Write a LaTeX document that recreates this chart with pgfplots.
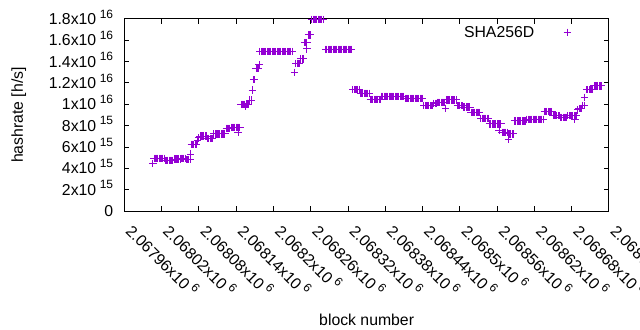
\documentclass[border=0pt]{standalone}
\usepackage{pgfplots}
\pgfplotsset{compat=1.18}
\usepackage{fontspec}
\setmainfont{Liberation Sans}
\definecolor{gpviolet}{RGB}{148,0,211}
\newcommand{\fs}{\fontsize{15.8bp}{18bp}\selectfont}
\newcommand{\sci}[2]{#1x10\hspace{3.5bp}\raisebox{6.5bp}{\fontsize{12bp}{14bp}\selectfont #2}}
\pgfplotsset{myleg/.style={legend image code/.code={\draw[##1] plot coordinates {(0bp,0bp)};}}}
\begin{document}
\begin{tikzpicture}
\useasboundingbox (-124.3bp,-119bp) rectangle (515.7bp,211bp);
\begin{axis}[
  at={(0,0)}, anchor=south west,
  scale only axis, width=484.7bp, height=192bp,
  xmin=0, xmax=780, ymin=0, ymax=18,
  clip=false,
  axis line style={line width=1bp},
  every tick/.style={black, line width=1bp},
  major tick length=4.5bp, tick align=inside,
  xtick={0,60,...,780},
  xticklabels={\sci{2.06796}{6},\sci{2.06802}{6},\sci{2.06808}{6},\sci{2.06814}{6},\sci{2.0682}{6},\sci{2.06826}{6},\sci{2.06832}{6},\sci{2.06838}{6},\sci{2.06844}{6},\sci{2.0685}{6},\sci{2.06856}{6},\sci{2.06862}{6},\sci{2.06868}{6},\sci{2.06874}{6}},
  ytick={0,2,...,18},
  yticklabels={0,\sci{2}{15},\sci{4}{15},\sci{6}{15},\sci{8}{15},\sci{1}{16},\sci{1.2}{16},\sci{1.4}{16},\sci{1.6}{16},\sci{1.8}{16}},
  tick label style={font=\fs},
  yticklabel style={anchor=base east, inner sep=0pt, xshift=-11bp, yshift=-5.6bp},
  xticklabel style={xshift=0.5bp, yshift=-21.2bp, rotate=-45, anchor=base west, inner sep=0pt},
  xlabel={block number}, ylabel={hashrate [h/s]},
  label style={font=\fs},
  xlabel style={at={(axis description cs:0.5,-0.598)}, anchor=base},
  ylabel style={at={(axis description cs:-0.209,0.5)}, anchor=base, rotate=0},
  legend plot pos=right,
  legend style={draw=none, fill=none, font=\fs, at={(rel axis cs:0.9214,0.9307)}, anchor=east, inner sep=0pt, outer sep=0pt, nodes={inner sep=0pt}, /tikz/every odd column/.append style={column sep=29.2bp}},
]
\addplot[only marks, mark=+, mark size=3.7bp, color=gpviolet, mark options={line width=1bp}, myleg] coordinates {
(46,4.45)
(48,4.94)(50,4.94)(52,4.94)(54,4.94)(56,4.94)(58,4.94)(60,4.94)(62,4.94)(64,4.94)
(66,4.75)(68,4.75)(70,4.75)(72,4.75)(74,4.75)(76,4.75)(78,4.75)
(80,4.86)(82,4.86)(84,4.86)(86,4.86)(88,4.86)(90,4.86)
(92,4.94)(94,4.94)(96,4.94)(98,4.94)
(100,4.81)(102,4.81)(104,4.81)(106,4.81)
(107,5.34)
(108,6.25)(110,6.25)(112,6.25)(114,6.25)(116,6.25)
(118,6.6)(120,6.85)
(122,7.03)(124,7.03)(126,7.03)(128,7.03)(130,7.03)(132,7.03)
(134,6.82)(136,6.82)(138,6.82)(140,6.82)(142,6.82)
(144,7.22)(146,7.22)(148,7.22)(150,7.22)(152,7.22)(154,7.22)(156,7.22)(158,7.22)(160,7.22)(162,7.22)
(164,7.75)(166,7.75)(168,7.75)(170,7.75)
(172,7.85)(174,7.85)(176,7.85)(178,7.85)(180,7.85)(182,7.85)(184,7.85)(186,7.85)
(183,7.34)
(188,10.0)(190,10.0)(192,10.0)(194,10.0)(196,10.0)(198,10.0)(200,10.0)
(195,9.78)
(202,10.4)(204,10.4)
(206,11.34)
(208,12.3)(210,12.3)
(212,13.34)(214,13.34)(216,13.34)
(217,13.69)
(218,14.94)(220,14.94)(222,14.94)(224,14.94)(226,14.94)(228,14.94)(230,14.94)(232,14.94)(234,14.94)(236,14.94)
(238,14.94)(240,14.94)(242,14.94)(244,14.94)(246,14.94)(248,14.94)(250,14.94)(252,14.94)(254,14.94)(256,14.94)
(258,14.94)(260,14.94)(262,14.94)(264,14.94)(266,14.94)(268,14.94)(270,14.94)
(274,13.0)
(276,13.85)(278,13.85)(280,13.85)(282,13.85)
(284,14.25)(286,14.25)(288,14.25)
(290,15.78)(292,15.78)(294,15.78)
(294,15.19)
(296,16.5)(298,16.5)(300,16.5)
(302,17.98)(304,17.98)(306,17.98)(308,17.98)(310,17.98)(312,17.98)(314,17.98)(316,17.98)(318,17.98)(320,17.98)
(324,15.16)(326,15.16)(328,15.16)(330,15.16)(332,15.16)(334,15.16)(336,15.16)(338,15.16)(340,15.16)(342,15.16)(344,15.16)
(346,15.16)(348,15.16)(350,15.16)(352,15.16)(354,15.16)(356,15.16)(358,15.16)(360,15.16)(362,15.16)(364,15.16)(366,15.16)
(368,11.39)(370,11.39)(372,11.39)(374,11.39)(376,11.39)(378,11.39)
(380,11.03)(382,11.03)(384,11.03)(386,11.03)(388,11.03)(390,11.03)(392,11.03)(394,11.03)
(396,10.47)(398,10.47)(400,10.47)(402,10.47)(404,10.47)(406,10.47)(408,10.47)(410,10.47)(412,10.47)
(414,10.75)(416,10.75)(418,10.75)(420,10.75)(422,10.75)(424,10.75)(426,10.75)(428,10.75)(430,10.75)(432,10.75)
(434,10.75)(436,10.75)(438,10.75)(440,10.75)(442,10.75)(444,10.75)(446,10.75)(448,10.75)(450,10.75)
(452,10.57)(454,10.57)(456,10.57)(458,10.57)(460,10.57)(462,10.57)(464,10.57)(466,10.57)(468,10.57)(470,10.57)
(472,10.57)(474,10.57)(476,10.57)(478,10.57)(480,10.57)
(482,9.87)(484,9.87)(486,9.87)(488,9.87)(490,9.87)(492,9.87)(494,9.87)(496,9.87)
(498,10.1)(500,10.1)(502,10.1)
(504,10.19)(506,10.19)(508,10.19)(510,10.19)(512,10.19)(514,10.19)(516,10.19)
(517,9.63)
(518,10.41)(520,10.41)(522,10.41)(524,10.41)(526,10.41)(528,10.41)(530,10.41)(532,10.41)(534,10.41)
(536,9.87)(538,9.87)(540,9.87)(542,9.87)(544,9.87)
(546,9.75)(548,9.75)(550,9.75)(552,9.75)(554,9.75)(556,9.75)
(558,9.25)(560,9.25)(562,9.25)(564,9.25)(566,9.25)(568,9.25)(570,9.25)(572,9.25)
(574,8.69)(576,8.69)(578,8.69)(580,8.69)(582,8.69)(584,8.69)(586,8.69)
(588,8.16)(590,8.16)(592,8.16)(594,8.16)(596,8.16)(598,8.16)(600,8.16)(602,8.16)(604,8.16)(606,8.16)
(603,7.59)
(608,7.38)(610,7.38)(612,7.38)(614,7.38)(616,7.38)
(618,6.72)
(618,7.22)(620,7.22)(622,7.22)(624,7.22)(626,7.22)
(628,8.44)(630,8.44)(632,8.44)(634,8.44)(636,8.44)(638,8.44)(640,8.44)(642,8.44)(644,8.44)(646,8.44)
(648,8.6)(650,8.6)(652,8.6)(654,8.6)(656,8.6)(658,8.6)(660,8.6)(662,8.6)(664,8.6)(666,8.6)(668,8.6)(670,8.6)(672,8.6)(674,8.6)
(676,9.31)(678,9.31)(680,9.31)(682,9.31)(684,9.31)(686,9.31)(688,9.31)
(690,8.93)(692,8.93)(694,8.93)(696,8.93)(698,8.93)(700,8.93)
(702,8.78)(704,8.78)(706,8.78)(708,8.78)(710,8.78)(712,8.78)
(714,8.93)(716,8.93)(718,8.93)(720,8.93)(722,8.93)(724,8.93)(726,8.93)(728,8.93)
(725,8.6)
(730,9.47)(732,9.6)(734,9.6)(736,9.6)(738,9.9)(740,9.9)
(741,10.66)
(744,11.37)(746,11.37)(748,11.37)(750,11.37)(752,11.37)(754,11.37)
(756,11.72)(758,11.72)(760,11.72)(762,11.72)(764,11.72)(766,11.72)(768,11.72)
};
\addlegendentry{SHA256D}
\end{axis}
\end{tikzpicture}
\end{document}
